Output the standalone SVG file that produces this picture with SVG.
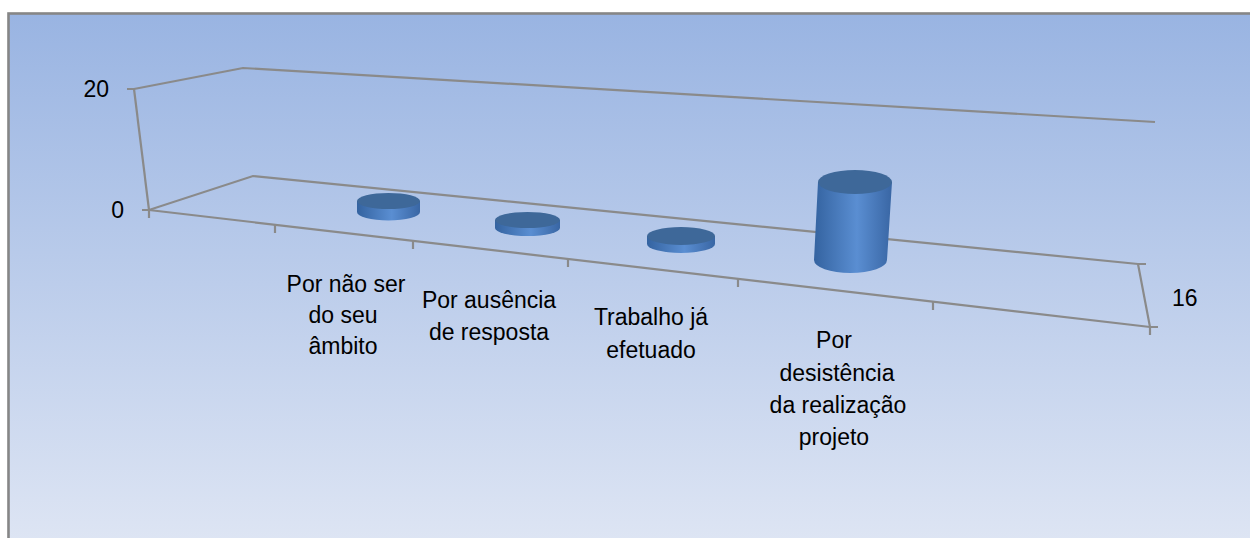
<svg xmlns="http://www.w3.org/2000/svg" width="1250" height="538" viewBox="0 0 1250 538">
  <defs>
    <linearGradient id="bg" x1="0" y1="0" x2="0" y2="1">
      <stop offset="0" stop-color="#99b4e2"/>
      <stop offset="1" stop-color="#dfe6f4"/>
    </linearGradient>
    <linearGradient id="side" x1="0" y1="0" x2="1" y2="0">
      <stop offset="0" stop-color="#3463a0"/>
      <stop offset="0.55" stop-color="#5a8ed2"/>
      <stop offset="1" stop-color="#3966a4"/>
    </linearGradient>
    <style>
      .ax { fill: none; stroke: #8a8a8a; stroke-width: 2.2; stroke-linecap: butt; stroke-linejoin: miter; }
      .lbl { font-family: "Liberation Sans", Arial, sans-serif; font-size: 23px; fill: #000; text-anchor: middle; }
      .num { font-family: "Liberation Sans", Arial, sans-serif; font-size: 23px; fill: #000; }
      .top { fill: #3e6899; }
      .side { fill: url(#side); }
    </style>
  </defs>

  <rect id="frame" x="8.5" y="13.5" width="1260" height="540" fill="url(#bg)" stroke="#868686" stroke-width="2.6"/>

  <g id="axes" class="ax">
    <path d="M127,89 L134,89 L243,68 L1155,122"/>
    <path d="M134,89 L149,210"/>
    <path d="M142,210 L149,210 L253,176 L1138,264 L1146,264"/>
    <path d="M149,210 L1150,327 L1158,327"/>
    <path d="M1138,264 L1150,327 L1150,335"/>
    <path d="M149,210 L149,218 M275,225 L275,233 M413,241 L413,249 M568,259 L568,267 M738,279 L738,287 M933,302 L933,310"/>
  </g>

  <g id="bar1">
    <path class="side" d="M357,201 L357,212 A31.5,8.5 0 0 0 420,212 L420,201 Z"/>
    <ellipse class="top" cx="388.5" cy="201" rx="31.5" ry="8"/>
  </g>
  <g id="bar2">
    <path class="side" d="M495,220 L495,228 A32.5,8 0 0 0 560,228 L560,220 Z"/>
    <ellipse class="top" cx="527.5" cy="220" rx="32.5" ry="8"/>
  </g>
  <g id="bar3">
    <path class="side" d="M647,236 L647,244 A34,9 0 0 0 715,244 L715,236 Z"/>
    <ellipse class="top" cx="681" cy="236" rx="34" ry="9"/>
  </g>
  <g id="bar4">
    <path class="side" d="M818,182 L814,260 A36.5,13 0 0 0 887,260 L892,182 Z"/>
    <ellipse class="top" cx="855" cy="182" rx="37" ry="12"/>
  </g>

  <g id="ylabels">
    <text class="num" x="109" y="97" text-anchor="end">20</text>
    <text class="num" x="124" y="218" text-anchor="end">0</text>
    <text class="num" x="1172" y="306">16</text>
  </g>

  <g id="cat1">
    <text class="lbl" x="346" y="292">Por não ser</text>
    <text class="lbl" x="343" y="323">do seu</text>
    <text class="lbl" x="343" y="354">âmbito</text>
  </g>
  <g id="cat2">
    <text class="lbl" x="489" y="308">Por ausência</text>
    <text class="lbl" x="489" y="340">de resposta</text>
  </g>
  <g id="cat3">
    <text class="lbl" x="651" y="325">Trabalho já</text>
    <text class="lbl" x="651" y="358">efetuado</text>
  </g>
  <g id="cat4">
    <text class="lbl" x="834" y="348">Por</text>
    <text class="lbl" x="837" y="381">desistência</text>
    <text class="lbl" x="838" y="413">da realização</text>
    <text class="lbl" x="834" y="445">projeto</text>
  </g>
</svg>
